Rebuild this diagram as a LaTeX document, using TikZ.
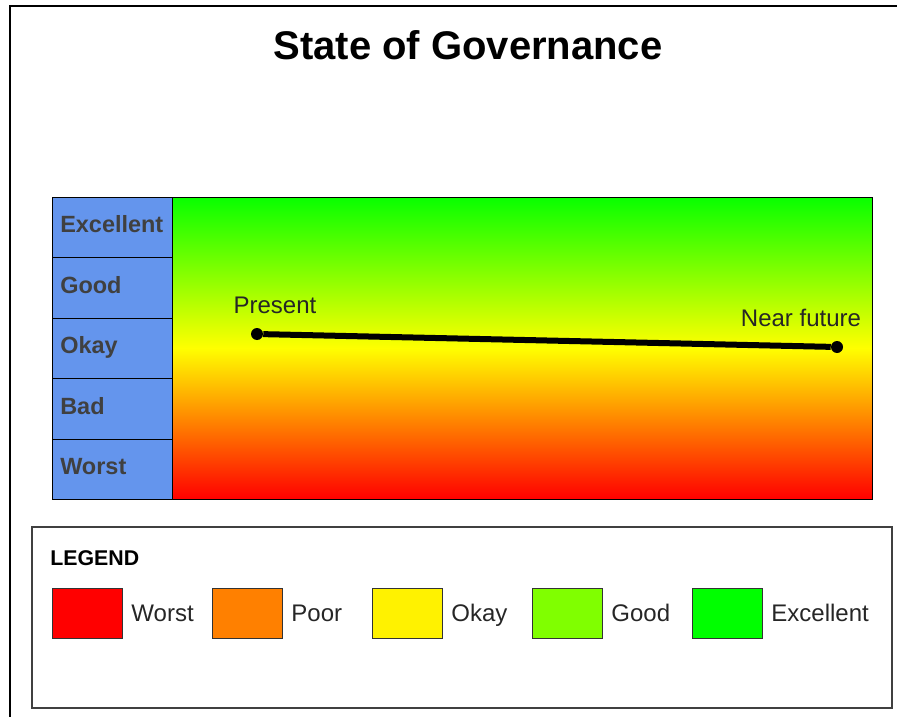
\documentclass[tikz,border=0pt]{standalone}
\usepackage{fontspec}
\setmainfont{Liberation Sans}
\usetikzlibrary{positioning}
\definecolor{cornflower}{RGB}{100,149,237}
\definecolor{topgreen}{RGB}{8,255,0}
\definecolor{legorange}{RGB}{255,128,0}
\definecolor{leggood}{RGB}{128,255,0}
\definecolor{leggreen}{RGB}{0,255,0}
\definecolor{lvlgray}{RGB}{64,64,64}
\begin{document}
\begin{tikzpicture}[x=0.75pt,y=-0.75pt]
	\tikzset{lvl/.style={draw=black,fill=cornflower,anchor=north west,minimum height=45.3pt,inner xsep=6pt,inner ysep=0pt,text width=78pt,align=left,text height=13pt,text depth=5pt,text=lvlgray,font=\fontsize{17.6}{20}\bfseries\selectfont},
		swatch/.style={draw=black!80,line width=0.9pt,minimum width=52.5pt,minimum height=37.5pt,anchor=north west,inner sep=0pt},
		lbl/.style={font=\fontsize{18}{20}\selectfont,text=black!85,inner xsep=0pt,text height=13pt,text depth=0.5pt},
		dot/.style={circle,fill=black,minimum size=9pt,inner sep=0pt}}
	\useasboundingbox(0,0)rectangle(897,717);
	\draw[line width=1.5pt](10,717)--(10,6)--(897,6);
	\node[font=\fontsize{30}{34}\bfseries\selectfont](title)at(468,45){State of Governance};
	\shade[top color=topgreen,bottom color=red,middle color=yellow](172,197)rectangle(872,499);
	\draw(172,197)rectangle(872,499);
	\foreach \t/\y in{Excellent/0,Good/1,Okay/2,Bad/3,Worst/4}
	\node[lvl](r\y)at(52,197+60.4*\y){\t};
	\node[dot](present)at(257,334){};
	\node[dot](future)at(837,347){};
	\draw[line width=4.5pt](present)--(future);
	\node[lbl](ptxt)at(275,305){Present};
	\node[lbl](ftxt)at(801,318){Near future};
	\draw[black!75,line width=1.5pt](32,527)rectangle(892,708);
	\node[anchor=west,inner sep=0pt,font=\fontsize{16}{18}\bfseries\selectfont](legend)at(50,558){LEGEND};
	\foreach \c/\t [count=\i from 0] in{red/Worst,legorange/Poor,yellow/Okay,leggood/Good,leggreen/Excellent}{
		\node[swatch,fill=\c](s\i)at(52+160*\i,588){};
		\node[lbl,right=6pt of s\i](l\i){\t};
	}
\end{tikzpicture}
\end{document}
